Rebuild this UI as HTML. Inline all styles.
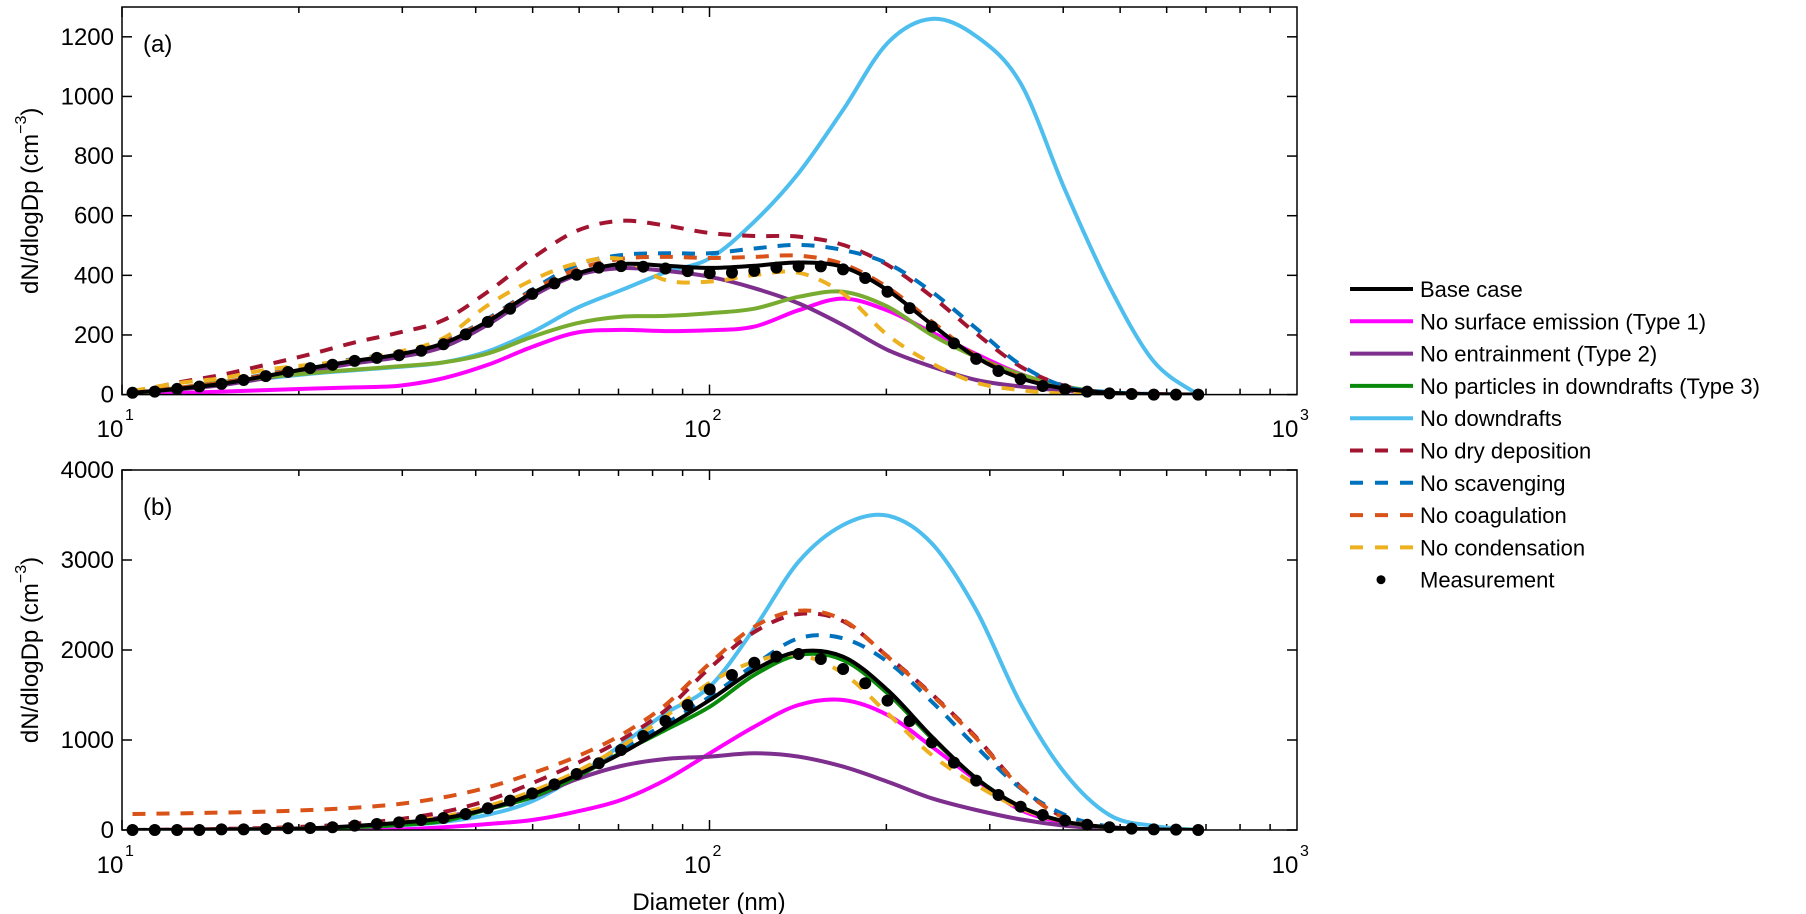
<!DOCTYPE html>
<html><head><meta charset="utf-8"><style>
html,body{margin:0;padding:0;background:#fff;}
svg{display:block;font-family:"Liberation Sans",Arial,sans-serif;}
</style></head><body>
<svg id="chart" width="1806" height="914" viewBox="0 0 1806 914" xmlns="http://www.w3.org/2000/svg"></svg>
<script>
// ---------- data ----------
const modelDiameters = [10.42,12.41,14.77,17.57,20.91,24.89,29.62,35.25,41.95,49.92,59.41,70.70,84.14,100.1,119.2,141.8,168.8,200.9,239.0,284.4,338.5,402.8,479.4,570.5,679.0];
const measDiameters = [10.42,11.37,12.41,13.54,14.77,16.11,17.57,19.17,20.91,22.82,24.89,27.15,29.62,32.31,35.25,38.46,41.95,45.77,49.92,54.46,59.41,64.81,70.70,77.13,84.14,91.79,100.1,109.2,119.2,130.0,141.8,154.7,168.8,184.1,200.9,219.1,239.0,260.7,284.4,310.3,338.5,369.2,402.8,439.4,479.4,523.0,570.5,622.4,679.0];

// panel (a)
const aBase      = [6,19,36,62,89,113,135,172,246,340,405,438,432,425,432,443,428,350,235,125,55,20,6,1,0];
const aSurface   = [0,5,10,15,20,24,30,55,100,160,208,217,213,216,228,283,322,282,209,136,69,24,5,0,0];
const aEntrain   = [6,17,32,55,80,105,126,160,235,330,400,424,415,395,357,306,233,150,94,49,27,13,5,1,0];
const aDownPart  = [2,22,42,58,72,84,95,108,138,194,239,261,264,273,288,328,345,295,200,126,68,27,7,1,0];
const aNoDown    = [2,18,38,55,70,82,93,108,145,210,290,350,410,457,580,743,955,1179,1260,1202,1044,687,363,111,0];
const aDryDep    = [8,40,66,100,135,175,208,250,345,457,549,583,567,542,532,530,502,435,329,205,94,29,7,2,0];
const aScav      = [8,22,40,68,95,120,140,178,255,352,435,468,474,474,490,502,485,440,345,222,100,27,8,2,0];
const aCoag      = [10,22,40,66,93,118,138,176,252,348,420,455,462,458,462,466,438,360,245,130,58,20,6,1,0];
const aCond      = [12,38,55,83,100,117,144,189,300,384,440,455,384,379,401,409,339,200,105,40,15,3,0,0,0];
const aMeas      = [6,10,19,27,36,49,62,76,89,100,113,123,132,147,169,202,244,288,338,373,402,426,431,429,423,414,407,409,415,426,430,430,420,391,345,290,228,172,120,79,52,29,18,10,4,2,0,0,0];

// panel (b)
const bBase      = [0,0,5,10,20,45,80,130,235,395,610,850,1140,1444,1778,1981,1926,1556,1037,574,259,93,30,7,0];
const bSurface   = [0,0,0,0,0,2,5,30,67,111,204,333,556,852,1148,1389,1444,1278,926,556,222,81,30,5,0];
const bEntrain   = [0,2,5,10,18,35,70,145,241,363,563,711,789,815,852,815,704,537,352,222,118,48,15,2,0];
const bDownPart  = [0,0,3,8,15,30,55,100,230,365,590,860,1111,1370,1722,1944,1889,1519,1019,574,259,90,28,6,0];
const bNoDown    = [0,2,5,10,18,30,50,90,170,320,600,944,1296,1593,2241,2981,3389,3493,3185,2444,1407,630,167,44,0];
const bDryDep    = [0,5,12,22,40,70,120,200,330,520,740,1000,1330,1800,2200,2400,2320,1930,1510,1030,480,135,30,5,0];
const bScav      = [0,0,5,10,20,45,82,135,245,410,640,900,1180,1481,1833,2130,2130,1870,1426,926,463,167,37,5,0];
const bCoag      = [178,185,193,204,222,248,289,363,474,630,815,1056,1389,1852,2259,2437,2333,1926,1500,1019,474,130,30,5,0];
const bCond      = [0,0,5,12,22,45,85,150,265,430,648,926,1259,1637,1870,1944,1741,1296,833,500,241,93,30,5,0];
const bMeas      = [0,0,0,0,7,7,11,19,22,30,48,67,85,111,133,178,241,326,407,507,622,741,889,1044,1211,1389,1563,1722,1859,1926,1956,1900,1789,1630,1437,1211,974,748,548,389,259,167,104,59,30,15,7,4,0];

const aTicks = [0,200,400,600,800,1000,1200];
const bTicks = [0,1000,2000,3000,4000];
const xDecades = [1,2,3];
const legendLabels = ["Base case","No surface emission (Type 1)","No entrainment (Type 2)","No particles in downdrafts (Type 3)","No downdrafts","No dry deposition","No scavenging","No coagulation","No condensation","Measurement"];

// ---------- helpers ----------
const NS = "http://www.w3.org/2000/svg";
const svg = document.getElementById("chart");
function mk(tag, attrs, parent){
  const e = document.createElementNS(NS, tag);
  for (const k in attrs) e.setAttribute(k, attrs[k]);
  (parent||svg).appendChild(e);
  return e;
}
const XL = 122, XR = 1297;
function xScale(d){ return XL + (Math.log10(d) - 1) / 2 * (XR - XL); }

const panels = [
  {id:"a", top:7, bottom:394.6, max:1300, ticks:aTicks, label:"(a)", green:"#77ac30",
   series:[aBase,aSurface,aEntrain,aDownPart,aNoDown,aDryDep,aScav,aCoag,aCond], meas:aMeas, tickLabelY:437},
  {id:"b", top:470, bottom:830, max:4000, ticks:bTicks, label:"(b)", green:"#0a8a0a",
   series:[bBase,bSurface,bEntrain,bDownPart,bNoDown,bDryDep,bScav,bCoag,bCond], meas:bMeas, tickLabelY:873}
];
const styles = [
  {c:"#000000", dash:null, name:"base-case"},
  {c:"#ff00ff", dash:null, name:"no-surface-emission"},
  {c:"#7e2f8e", dash:null, name:"no-entrainment"},
  {c:"GREEN",   dash:null, name:"no-particles-in-downdrafts"},
  {c:"#4dbeee", dash:null, name:"no-downdrafts"},
  {c:"#a2142f", dash:"13 11", name:"no-dry-deposition"},
  {c:"#0072bd", dash:"13 11", name:"no-scavenging"},
  {c:"#d95319", dash:"13 11", name:"no-coagulation"},
  {c:"#edb120", dash:"13 11", name:"no-condensation"}
];
const drawOrder = [4,1,2,3,5,6,7,8,0];

function smoothPath(pts){
  let d = "M" + pts[0][0].toFixed(1) + "," + pts[0][1].toFixed(1);
  for (let i=0;i<pts.length-1;i++){
    const p0 = pts[Math.max(0,i-1)], p1 = pts[i], p2 = pts[i+1], p3 = pts[Math.min(pts.length-1,i+2)];
    const c1x = p1[0] + (p2[0]-p0[0])/6, c1y = p1[1] + (p2[1]-p0[1])/6;
    const c2x = p2[0] - (p3[0]-p1[0])/6, c2y = p2[1] - (p3[1]-p1[1])/6;
    d += " C" + c1x.toFixed(1)+","+c1y.toFixed(1)+" "+c2x.toFixed(1)+","+c2y.toFixed(1)+" "+p2[0].toFixed(1)+","+p2[1].toFixed(1);
  }
  return d;
}

const defs = mk("defs",{});
panels.forEach(p=>{
  const yScale = v => p.bottom - v/p.max*(p.bottom - p.top);
  const g = mk("g",{});
  
  
  const cp = mk("clipPath",{id:"clip-"+p.id}, defs);
  mk("rect",{x:XL,y:p.top,width:XR-XL,height:p.bottom-p.top}, cp);

  // ticks
  const tg = mk("g",{stroke:"#000","stroke-width":1.5}, g);
  
  
  for (let dec=1; dec<3; dec++){
    for (let m=1; m<=9; m++){
      const x = xScale(m*Math.pow(10,dec));
      const len = m===1 ? 10 : 6;
      mk("line",{x1:x,y1:p.bottom,x2:x,y2:p.bottom-len}, tg);
      mk("line",{x1:x,y1:p.top,x2:x,y2:p.top+len}, tg);
    }
  }
  p.ticks.forEach(t=>{
    const y = yScale(t);
    mk("line",{x1:XL,y1:y,x2:XL+10,y2:y}, tg);
    mk("line",{x1:XR,y1:y,x2:XR-10,y2:y}, tg);
    const tl = mk("text",{x:XL-8,y:y+8,"text-anchor":"end","font-size":24,fill:"#000"}, g);
    tl.textContent = t;
    
    
  });
  xDecades.forEach(e=>{
    const x = xScale(Math.pow(10,e));
    const tx = mk("text",{x:x-12,y:p.tickLabelY,"text-anchor":"middle","font-size":24,fill:"#000"}, g);
    tx.textContent = "10";
    
    
    const sp = mk("text",{x:x+3,y:p.tickLabelY-17,"font-size":16,fill:"#000"}, g);
    sp.textContent = e;
    
    
  });

  // series
  const sg = mk("g",{"clip-path":"url(#clip-"+p.id+")"}, g);
  drawOrder.forEach(i=>{
    const st = styles[i];
    const vals = p.series[i];
    const pts = modelDiameters.map((d,j)=>[xScale(d), yScale(vals[j])]);
    const path = mk("path",{d:smoothPath(pts),fill:"none",stroke:st.c==="GREEN"?p.green:st.c,"stroke-width":4,"stroke-linejoin":"round"}, sg);
    if (st.dash) path.setAttribute("stroke-dasharray", st.dash);
    
    
  });
  p.meas.forEach((v,j)=>{
    const c = mk("circle",{cx:xScale(measDiameters[j]),cy:yScale(v),r:6,fill:"#000"}, g);
    
    
  });

  // frame
  const fr = mk("rect",{x:XL,y:p.top,width:XR-XL,height:p.bottom-p.top,fill:"none",stroke:"#000","stroke-width":1.5}, g);
  
  
  const pl = mk("text",{x:XL+21,y:p.top+45,"font-size":24,fill:"#000"}, g);
  pl.textContent = p.label;
  
  

  // y label
  const cy = (p.top+p.bottom)/2;
  const yl = mk("text",{transform:"translate(38,"+cy+") rotate(-90)","text-anchor":"middle","font-size":24,fill:"#000"}, g);
  
  
  const t1 = mk("tspan",{}, yl); t1.textContent = "dN/dlogDp (cm";
  const t2 = mk("tspan",{dy:-12,"font-size":16}, yl); t2.textContent = "−3";
  const t3 = mk("tspan",{dy:12}, yl); t3.textContent = ")";
});

const xt = mk("text",{x:709,y:910,"text-anchor":"middle","font-size":24,fill:"#000"});
xt.textContent = "Diameter (nm)";



// legend
const lg = mk("g",{});


legendLabels.forEach((lab,i)=>{
  const y = 289 + 32.3*i;
  const eg = mk("g",{}, lg);
  
  
  if (i < 9){
    const st = styles[i];
    const ln = mk("line",{x1:1350,y1:y,x2:1413,y2:y,stroke:st.c==="GREEN"?"#0a8a0a":st.c,"stroke-width":4}, eg);
    if (st.dash) ln.setAttribute("stroke-dasharray","13 12");
  } else {
    mk("circle",{cx:1381,cy:y,r:4.5,fill:"#000"}, eg);
  }
  const t = mk("text",{x:1420,y:y+8,"font-size":22,fill:"#000"}, eg);
  t.textContent = lab;
});
</script>
</body></html>
